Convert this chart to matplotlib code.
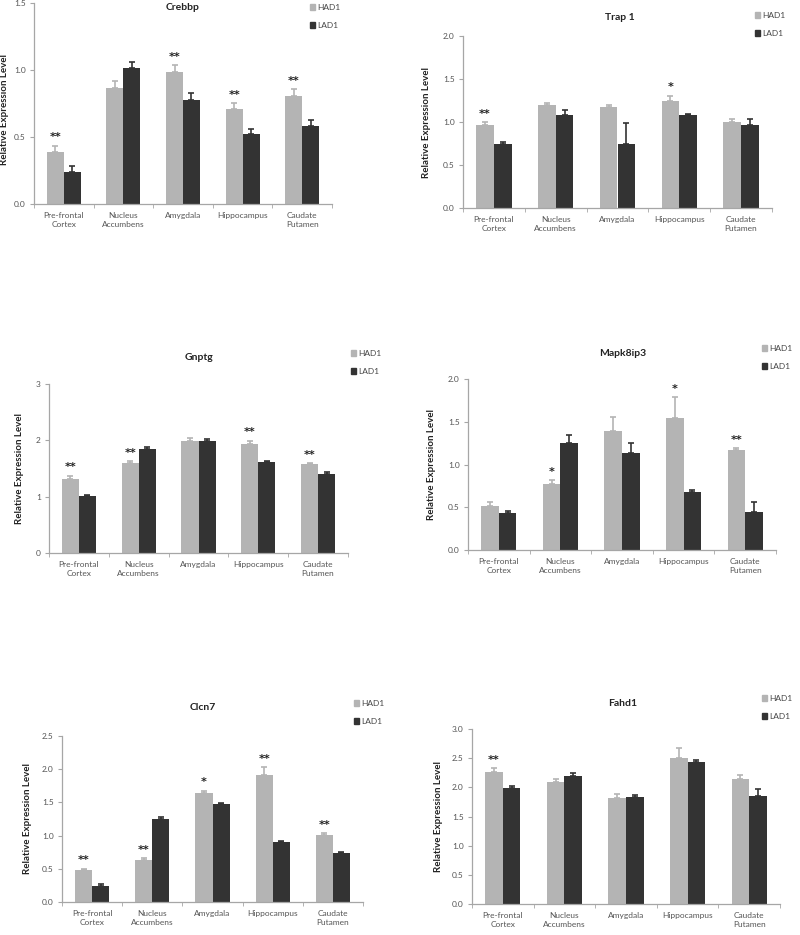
import numpy as np
import matplotlib
matplotlib.use("Agg")
import matplotlib.pyplot as plt
from matplotlib.patches import Patch

plt.rcParams['font.family'] = ['Lato', 'DejaVu Sans']

regions = ["Pre-frontal\nCortex", "Nucleus\nAccumbens", "Amygdala", "Hippocampus", "Caudate\nPutamen"]
series_names = ["HAD1", "LAD1"]

genes = ["Crebbp", "Trap 1", "Gnptg", "Mapk8ip3", "Clcn7", "Fahd1"]

crebbp_had = [0.39, 0.87, 0.99, 0.71, 0.81]
crebbp_had_err = [0.045, 0.047, 0.05, 0.042, 0.05]
crebbp_lad = [0.24, 1.02, 0.78, 0.52, 0.58]
crebbp_lad_err = [0.042, 0.045, 0.052, 0.042, 0.05]
crebbp_sig = ["**", "", "**", "**", "**"]

trap1_had = [0.97, 1.20, 1.18, 1.25, 1.00]
trap1_had_err = [0.027, 0.016, 0.012, 0.055, 0.035]
trap1_lad = [0.75, 1.08, 0.75, 1.08, 0.97]
trap1_lad_err = [0.02, 0.055, 0.24, 0.015, 0.066]
trap1_sig = ["**", "", "", "*", ""]

gnptg_had = [1.31, 1.59, 1.99, 1.93, 1.58]
gnptg_had_err = [0.06, 0.04, 0.06, 0.065, 0.017]
gnptg_lad = [1.01, 1.84, 1.99, 1.61, 1.41]
gnptg_lad_err = [0.024, 0.035, 0.03, 0.03, 0.024]
gnptg_sig = ["**", "**", "", "**", "**"]

mapk_had = [0.52, 0.77, 1.39, 1.54, 1.17]
mapk_had_err = [0.04, 0.047, 0.17, 0.25, 0.023]
mapk_lad = [0.43, 1.25, 1.14, 0.68, 0.45]
mapk_lad_err = [0.023, 0.10, 0.113, 0.016, 0.113]
mapk_sig = ["", "*", "", "*", "**"]

clcn7_had = [0.48, 0.63, 1.64, 1.91, 1.01]
clcn7_had_err = [0.02, 0.035, 0.035, 0.12, 0.025]
clcn7_lad = [0.24, 1.25, 1.47, 0.90, 0.74]
clcn7_lad_err = [0.03, 0.035, 0.02, 0.015, 0.02]
clcn7_sig = ["**", "**", "*", "**", "**"]

fahd1_had = [2.26, 2.10, 1.81, 2.50, 2.14]
fahd1_had_err = [0.07, 0.045, 0.075, 0.18, 0.063]
fahd1_lad = [1.99, 2.19, 1.84, 2.44, 1.85]
fahd1_lad_err = [0.03, 0.06, 0.03, 0.035, 0.125]
fahd1_sig = ["**", "", "", "", ""]

had_vals = [crebbp_had, trap1_had, gnptg_had, mapk_had, clcn7_had, fahd1_had]
had_errs = [crebbp_had_err, trap1_had_err, gnptg_had_err, mapk_had_err, clcn7_had_err, fahd1_had_err]
lad_vals = [crebbp_lad, trap1_lad, gnptg_lad, mapk_lad, clcn7_lad, fahd1_lad]
lad_errs = [crebbp_lad_err, trap1_lad_err, gnptg_lad_err, mapk_lad_err, clcn7_lad_err, fahd1_lad_err]
sigs = [crebbp_sig, trap1_sig, gnptg_sig, mapk_sig, clcn7_sig, fahd1_sig]

y_max = [1.5, 2.0, 3, 2.0, 2.5, 3.0]
y_step = [0.5, 0.5, 1, 0.5, 0.5, 0.5]
y_fmt = ["{:.1f}", "{:.1f}", "{:.0f}", "{:.1f}", "{:.1f}", "{:.1f}"]

# ---- layout (pixels in an 800x935 figure) ----
W, H = 800, 935
axes_px = [  # left, right, top, bottom
    (34, 332, 3.3, 204),
    (463, 772, 36, 208),
    (49, 348, 384, 553),
    (468, 776, 379, 550),
    (62, 363, 736, 902),
    (472, 780, 729, 904),
]
title_px = [(183, 7), (620, 17), (199, 357), (623, 354), (203, 707), (623, 703)]
legend_px = [(310, 4), (755, 12), (351, 350), (762, 345), (354, 700), (762, 695)]
ylabel_off = [25, 32, 25, 32, 30, 29]
ylabel_y = [0.47, 0.5, 0.5, 0.5, 0.5, 0.5]

HAD_COLOR = "#b4b4b4"
LAD_COLOR = "#333333"
SPINE = "#a6a6a6"
TXT = "#555555"

fig = plt.figure(figsize=(W / 100, H / 100), dpi=100)

x = np.arange(len(regions))
bw = 0.285

for i in range(6):
    l, r, t, b = axes_px[i]
    ax = fig.add_axes([l / W, 1 - b / H, (r - l) / W, (b - t) / H])
    ax.bar(x - bw / 2, had_vals[i], bw, color=HAD_COLOR,
           yerr=[np.zeros(5), had_errs[i]], ecolor=HAD_COLOR,
           error_kw=dict(capsize=2.0, elinewidth=1.2, capthick=1.2), label=series_names[0])
    ax.bar(x + bw / 2, lad_vals[i], bw, color=LAD_COLOR,
           yerr=[np.zeros(5), lad_errs[i]], ecolor=LAD_COLOR,
           error_kw=dict(capsize=2.0, elinewidth=1.2, capthick=1.2), label=series_names[1])
    for j, s in enumerate(sigs[i]):
        if s:
            ax.annotate(s, (x[j] - bw / 2, had_vals[i][j] + had_errs[i][j]),
                        xytext=(0, 6), textcoords="offset points",
                        ha="center", va="center", fontsize=8, fontweight="bold",
                        color="#222222", family=["DejaVu Sans"])
    ax.set_xlim(-0.5, 4.5)
    ax.set_ylim(0, y_max[i])
    yt = np.arange(0, y_max[i] + 1e-9, y_step[i])
    ax.set_yticks(yt)
    ax.set_yticklabels([y_fmt[i].format(v) for v in yt])
    ax.set_xticks(x)
    ax.set_xticklabels(regions)
    ax.set_xticks(np.arange(-0.5, 5, 1), minor=True)
    ax.tick_params(axis="x", which="major", length=0, pad=6, labelsize=6, labelcolor=TXT)
    ax.tick_params(axis="x", which="minor", length=3, color=SPINE, direction="out")
    ax.tick_params(axis="y", length=3, color=SPINE, direction="out", labelsize=6, labelcolor=TXT, pad=3)
    for sp in ["top", "right"]:
        ax.spines[sp].set_visible(False)
    for sp in ["left", "bottom"]:
        ax.spines[sp].set_color(SPINE)
        ax.spines[sp].set_linewidth(0.9)
    ax.set_ylabel("Relative Expression Level", fontsize=7, fontweight="bold", color="#222222")
    ax.yaxis.set_label_coords(-ylabel_off[i] / (r - l), ylabel_y[i])
    tx, ty = title_px[i]
    fig.text(tx / W, 1 - ty / H, genes[i], ha="center", va="center",
             fontsize=7.5, fontweight="bold", color="#222222")
    lx, ly = legend_px[i]
    handles = [Patch(color=HAD_COLOR), Patch(color=LAD_COLOR)]
    ax.legend(handles, series_names, loc="upper left",
              bbox_to_anchor=(lx / W, 1 - ly / H), bbox_transform=fig.transFigure,
              frameon=False, fontsize=6, handlelength=0.6, handleheight=0.6,
              handletextpad=0.3, labelspacing=1.3, borderpad=0, borderaxespad=0,
              labelcolor="#444444")

fig.savefig("out.png", dpi=100, facecolor="white")
